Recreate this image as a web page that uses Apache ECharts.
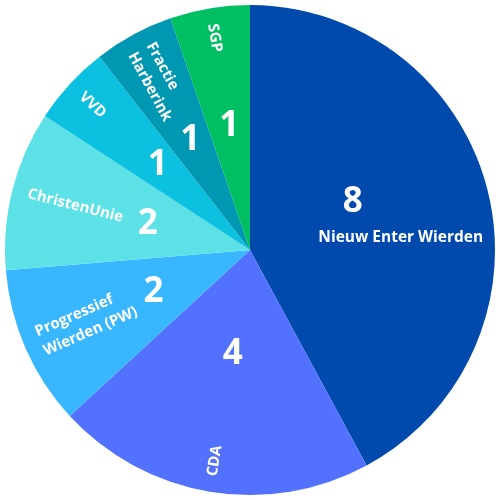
<!DOCTYPE html>
<html>
<head>
<meta charset="utf-8">
<script src="https://cdn.jsdelivr.net/npm/echarts@6/dist/echarts.min.js"></script>
<style>html,body{margin:0;padding:0;background:#fff}#c{width:500px;height:500px}</style>
</head>
<body>
<div id="c"></div>
<script>
const categories = ['Nieuw Enter Wierden', 'CDA', 'Progressief\nWierden (PW)', 'ChristenUnie', 'VVD', 'Fractie\nHarberink', 'SGP'];
const seats = [8, 4, 2, 2, 1, 1, 1];
const colors = ['#004AAD', '#5271FF', '#38B6FF', '#5CE1E6', '#0CC0DF', '#0097B2', '#00BF63'];

const FONT = '"Open Sans", "Noto Sans", sans-serif';
const baseData = categories.map((c, i) => ({ name: c, value: seats[i], itemStyle: { color: colors[i] } }));
const ghostData = categories.map((c, i) => ({ name: c, value: seats[i] }));
const ghost = { color: 'rgba(0,0,0,0)', borderWidth: 0 };
const common = { type: 'pie', center: ['50%', '50%'], startAngle: 90, clockwise: true, silent: true, labelLine: { show: false } };

const chart = echarts.init(document.getElementById('c'), null, { renderer: 'canvas' });
chart.setOption({
  animation: false,
  series: [
    Object.assign({}, common, {
      radius: [0, '98%'], label: { show: false }, itemStyle: { borderWidth: 0 }, data: baseData
    }),
    Object.assign({}, common, {
      radius: ['83%', '98%'], itemStyle: ghost,
      label: {
        show: true, position: 'inside', rotate: 'radial', color: '#fff',
        fontFamily: FONT, fontWeight: 'bold', fontSize: 15, lineHeight: 21,
        formatter: p => p.dataIndex === 0 ? '' : p.name
      },
      labelLayout: { align: 'left' },
      data: ghostData
    }),
    Object.assign({}, common, {
      radius: [0, '98%'], itemStyle: ghost,
      label: {
        show: true, position: 'inside', rotate: 0, color: '#fff',
        fontFamily: FONT, fontWeight: 'bold', fontSize: 35,
        formatter: p => p.value === 1 ? String(p.value) : ''
      },
      data: ghostData
    }),
    Object.assign({}, common, {
      radius: [0, '82%'], itemStyle: ghost,
      label: {
        show: true, position: 'inside', rotate: 0, color: '#fff',
        fontFamily: FONT, fontWeight: 'bold', fontSize: 35,
        formatter: p => (p.dataIndex !== 0 && p.value > 1) ? String(p.value) : ''
      },
      data: ghostData
    }),
    Object.assign({}, common, {
      radius: ['24%', '98%'], itemStyle: ghost,
      label: {
        show: true, position: 'inside', rotate: 0, color: '#fff', fontFamily: FONT,
        formatter: p => p.dataIndex === 0 ? '{n|' + p.value + '}\n{t|' + p.name + '}' : '',
        rich: {
          n: { fontSize: 35, fontWeight: 'bold', color: '#fff', fontFamily: FONT, lineHeight: 52, padding: [0, 96, 0, 0] },
          t: { fontSize: 15.5, fontWeight: 'bold', color: '#fff', fontFamily: FONT, lineHeight: 20 }
        }
      },
      data: ghostData
    })
  ]
});
</script>
</body>
</html>
